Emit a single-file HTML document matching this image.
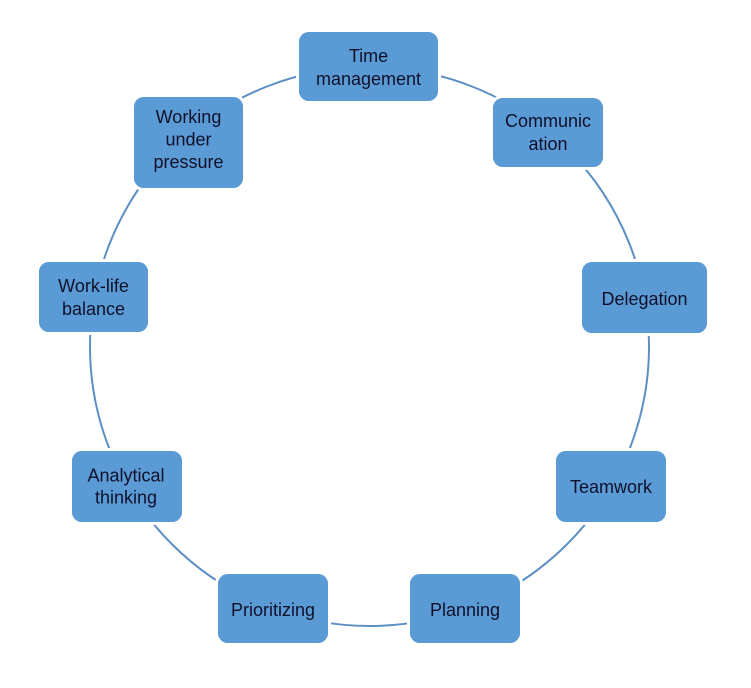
<!DOCTYPE html>
<html><head><meta charset="utf-8"><style>
html,body{margin:0;padding:0;background:#fff;}
svg{display:block;}
text{font-family:"Liberation Sans",Arial,sans-serif;font-size:18px;fill:#10102a;text-anchor:middle;}
</style></head><body>
<svg width="751" height="688" viewBox="0 0 751 688" xmlns="http://www.w3.org/2000/svg">
<rect width="751" height="688" fill="#fff"/>
<circle cx="369.5" cy="346.5" r="279.5" fill="none" stroke="#5d8fc4" stroke-width="2"/>
<g fill="#5b9bd5" stroke="#fff" stroke-width="6" paint-order="stroke">
<rect x="299" y="32" width="139" height="69" rx="10"/>
<rect x="493" y="98" width="110" height="69" rx="10"/>
<rect x="582" y="262" width="125" height="71" rx="10"/>
<rect x="556" y="451" width="110" height="71" rx="10"/>
<rect x="410" y="574" width="110" height="69" rx="10"/>
<rect x="218" y="574" width="110" height="69" rx="10"/>
<rect x="72" y="451" width="110" height="71" rx="10"/>
<rect x="39" y="262" width="109" height="70" rx="10"/>
<rect x="134" y="97" width="109" height="91" rx="10"/>
</g>
<g fill="#5b9bd5">
<rect x="299" y="32" width="139" height="69" rx="10"/>
<rect x="493" y="98" width="110" height="69" rx="10"/>
<rect x="582" y="262" width="125" height="71" rx="10"/>
<rect x="556" y="451" width="110" height="71" rx="10"/>
<rect x="410" y="574" width="110" height="69" rx="10"/>
<rect x="218" y="574" width="110" height="69" rx="10"/>
<rect x="72" y="451" width="110" height="71" rx="10"/>
<rect x="39" y="262" width="109" height="70" rx="10"/>
<rect x="134" y="97" width="109" height="91" rx="10"/>
</g>
<text x="368.5" y="62">Time</text>
<text x="368.5" y="85">management</text>
<text x="548" y="127">Communic</text>
<text x="548" y="150">ation</text>
<text x="644.5" y="305">Delegation</text>
<text x="611" y="493">Teamwork</text>
<text x="465" y="616">Planning</text>
<text x="273" y="616">Prioritizing</text>
<text x="126" y="481.5">Analytical</text>
<text x="126" y="503.5">thinking</text>
<text x="93.5" y="292">Work-life</text>
<text x="93.5" y="315">balance</text>
<text x="188.5" y="123">Working</text>
<text x="188.5" y="145.5">under</text>
<text x="188.5" y="168">pressure</text>
</svg>
</body></html>
